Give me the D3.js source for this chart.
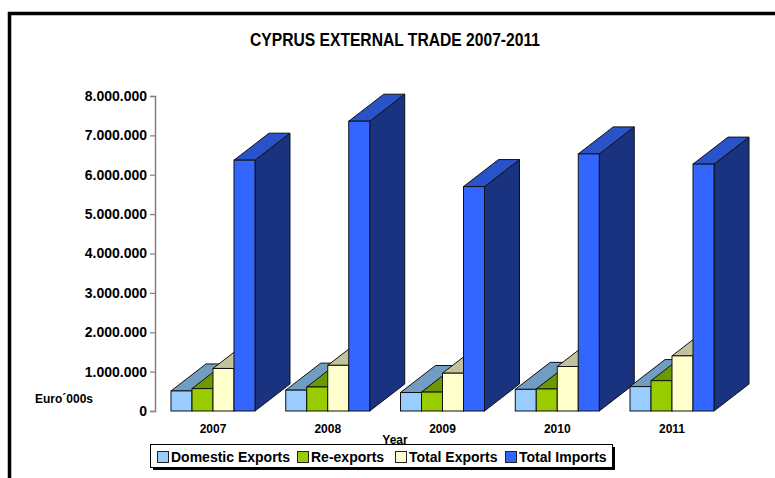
<!DOCTYPE html>
<html>
<head>
<meta charset="utf-8">
<script src="https://cdn.jsdelivr.net/npm/d3@7"></script>
<style>
  html, body { margin: 0; padding: 0; background: #ffffff; }
  svg { display: block; }
  text { font-family: "Liberation Sans", Arial, sans-serif; font-weight: bold; fill: #000; }
</style>
</head>
<body>
<svg id="chart" width="775" height="478"></svg>
<script>
// ---- data ----
const years = ["2007", "2008", "2009", "2010", "2011"];
const seriesNames = ["Domestic Exports", "Re-exports", "Total Exports", "Total Imports"];
const domesticExports = [510000, 530000, 470000, 550000, 620000];
const reExports = [570000, 610000, 480000, 560000, 770000];
const totalExports = [1080000, 1160000, 960000, 1130000, 1400000];
const totalImports = [6370000, 7360000, 5700000, 6530000, 6270000];
const yTickValues = [0, 1000000, 2000000, 3000000, 4000000, 5000000, 6000000, 7000000, 8000000];
const titleText = "CYPRUS EXTERNAL TRADE 2007-2011";
const yAxisTitle = "Euro\u00B4000s";
const xAxisTitle = "Year";

const seriesValues = [domesticExports, reExports, totalExports, totalImports];

// ---- styles ----
const frontColors = ["#99ccff", "#99cc00", "#ffffcc", "#3366ff"];
const topColors = ["#729dc3", "#6b9a00", "#c2c29c", "#2a53c9"];
const sideColors = ["#5f86a8", "#5a8000", "#a3a383", "#1a3380"];
const depthX = 35, depthY = 27;

const svg = d3.select("#chart");

// frame
svg.append("rect")
  .attr("x", 9.5).attr("y", 13.5)
  .attr("width", 900).attr("height", 600)
  .attr("fill", "none").attr("stroke", "#000").attr("stroke-width", 3.5);

// title
svg.append("text")
  .attr("x", 395).attr("y", 46)
  .attr("text-anchor", "middle")
  .style("font-family", "'Liberation Sans Narrow', 'Arial Narrow', 'Liberation Sans', sans-serif")
  .style("font-size", "19px")
  .attr("textLength", 290).attr("lengthAdjust", "spacingAndGlyphs")
  .text(titleText);

// scales
const x = d3.scaleBand().domain(years).range([171, 714]).paddingInner(0.268).paddingOuter(0);
const xs = d3.scaleBand().domain(seriesNames).range([0, x.bandwidth()]).padding(0);
const y = d3.scaleLinear().domain([0, 8000000]).range([411, 96]);

// y axis
const fmt = v => d3.format(",")(v).replace(/,/g, ".");
const yAxis = d3.axisLeft(y).tickValues(yTickValues).tickFormat(fmt).tickSize(5).tickPadding(3);
const gy = svg.append("g").attr("transform", "translate(155,0)").call(yAxis);
gy.select(".domain").attr("stroke", "#808080").attr("stroke-width", 1.5);
gy.selectAll(".tick line").attr("stroke", "#808080").attr("stroke-width", 1.2);
gy.selectAll(".tick text")
  .style("font-family", "'Liberation Sans', Arial, sans-serif")
  .style("font-weight", "bold").style("font-size", "14px").attr("fill", "#000");

// axis titles
svg.append("text").attr("x", 35).attr("y", 403).style("font-size", "12px").text(yAxisTitle);

// bars
const bw = xs.bandwidth();
years.forEach((yr, gi) => {
  const g = svg.append("g");
  seriesNames.forEach((s, si) => {
    const v = seriesValues[si][gi];
    const x0 = x(yr) + xs(s);
    const x1 = x0 + bw;
    const yb = y(0), yt = y(v);
    const poly = pts => pts.map(p => p.join(",")).join(" ");
    // side
    g.append("polygon")
      .attr("points", poly([[x1, yb], [x1 + depthX, yb - depthY], [x1 + depthX, yt - depthY], [x1, yt]]))
      .attr("fill", sideColors[si]).attr("stroke", "#111").attr("stroke-width", 1).attr("stroke-linejoin", "round");
    // top
    g.append("polygon")
      .attr("points", poly([[x0, yt], [x0 + depthX, yt - depthY], [x1 + depthX, yt - depthY], [x1, yt]]))
      .attr("fill", topColors[si]).attr("stroke", "#111").attr("stroke-width", 1).attr("stroke-linejoin", "round");
    // front
    g.append("rect")
      .attr("x", x0).attr("y", yt).attr("width", bw).attr("height", yb - yt)
      .attr("fill", frontColors[si]).attr("stroke", "#111").attr("stroke-width", 1);
  });
});

// year labels
svg.append("g").selectAll("text").data(years).join("text")
  .attr("x", d => x(d) + x.bandwidth() / 2)
  .attr("y", 433)
  .attr("text-anchor", "middle")
  .style("font-size", "12px")
  .text(d => d);

svg.append("text").attr("x", 395).attr("y", 444).attr("text-anchor", "middle")
  .style("font-size", "12px").text(xAxisTitle);

// legend
const legX = 150, legY = 444, legW = 462, legH = 23;
svg.append("rect").attr("x", legX + 3).attr("y", legY + 3).attr("width", legW).attr("height", legH).attr("fill", "#000");
svg.append("rect").attr("x", legX + 0.5).attr("y", legY + 0.5).attr("width", legW).attr("height", legH)
  .attr("fill", "#fff").attr("stroke", "#000").attr("stroke-width", 1);
const legendItemX = [157, 297, 395, 505];
const legG = svg.append("g").selectAll("g").data(seriesNames).join("g")
  .attr("transform", (d, i) => `translate(${legendItemX[i]},${legY})`);
legG.append("rect").attr("x", 0.5).attr("y", 7.5).attr("width", 11).attr("height", 11)
  .attr("fill", (d, i) => frontColors[i]).attr("stroke", "#222").attr("stroke-width", 1);
legG.append("text").attr("x", 14).attr("y", 18).style("font-size", "14px").text(d => d);
</script>
</body>
</html>
